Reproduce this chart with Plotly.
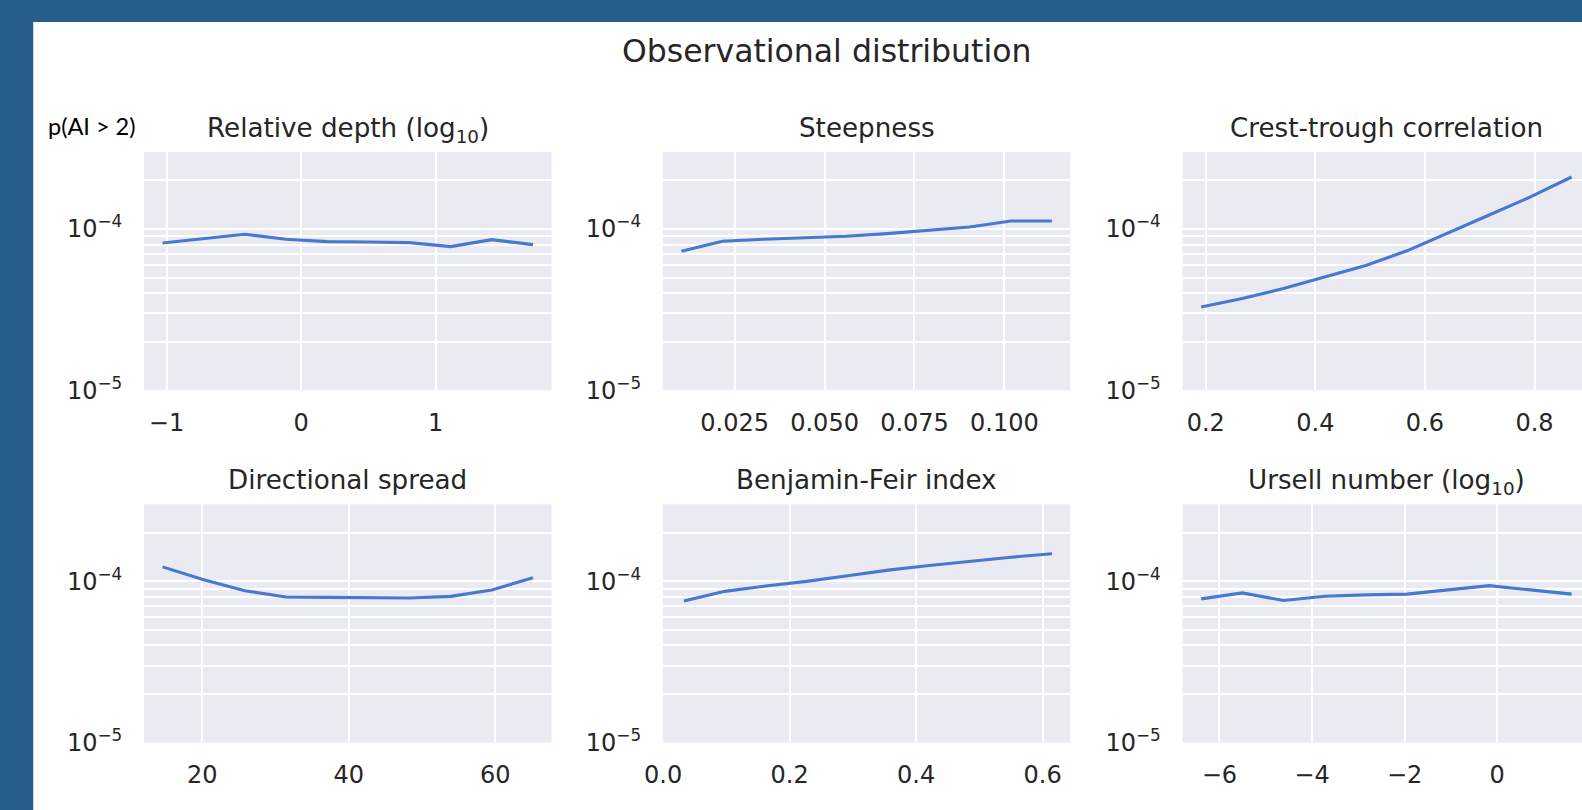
import numpy as np
import plotly.graph_objects as go

# ---------------- data ----------------
panel_titles = ["Relative depth (log<sub>10</sub>)", "Steepness", "Crest-trough correlation",
                "Directional spread", "Benjamin-Feir index", "Ursell number (log<sub>10</sub>)"]

rel_depth_x = [-1.030, -0.724, -0.418, -0.112, 0.194, 0.500, 0.806, 1.112, 1.418, 1.724]
rel_depth_y = [8.19e-5, 8.71e-5, 9.27e-5, 8.63e-5, 8.35e-5, 8.31e-5, 8.23e-5, 7.77e-5, 8.59e-5, 8.00e-5]

steep_x = [0.0102, 0.0216, 0.0331, 0.0445, 0.0560, 0.0674, 0.0789, 0.0903, 0.1018, 0.1132]
steep_y = [7.28e-5, 8.39e-5, 8.63e-5, 8.84e-5, 9.01e-5, 9.36e-5, 9.82e-5, 1.028e-4, 1.12e-4, 1.12e-4]

crest_x = [0.1915, 0.2666, 0.3417, 0.4169, 0.4920, 0.5671, 0.6422, 0.7173, 0.7925, 0.8676]
crest_y = [3.28e-5, 3.71e-5, 4.27e-5, 5.01e-5, 5.94e-5, 7.32e-5, 9.40e-5, 1.22e-4, 1.58e-4, 2.10e-4]

dirspread_x = [14.59, 20.21, 25.83, 31.45, 37.06, 42.68, 48.30, 53.92, 59.53, 65.15]
dirspread_y = [1.228e-4, 1.021e-4, 8.74e-5, 7.99e-5, 7.95e-5, 7.91e-5, 7.87e-5, 8.06e-5, 8.82e-5, 1.051e-4]

bfi_x = [0.0328, 0.0975, 0.1621, 0.2268, 0.2915, 0.3561, 0.4208, 0.4855, 0.5501, 0.6148]
bfi_y = [7.55e-5, 8.66e-5, 9.34e-5, 9.98e-5, 1.081e-4, 1.172e-4, 1.252e-4, 1.33e-4, 1.41e-4, 1.48e-4]

ursell_x = [-6.395, -5.506, -4.617, -3.728, -2.839, -1.950, -1.061, -0.172, 0.717, 1.606]
ursell_y = [7.78e-5, 8.47e-5, 7.60e-5, 8.08e-5, 8.24e-5, 8.32e-5, 8.84e-5, 9.40e-5, 8.84e-5, 8.32e-5]

xtick_vals = [[-1, 0, 1], [0.025, 0.050, 0.075, 0.100], [0.2, 0.4, 0.6, 0.8],
              [20, 40, 60], [0.0, 0.2, 0.4, 0.6], [-6, -4, -2, 0]]
xtick_text = [["\u22121", "0", "1"], ["0.025", "0.050", "0.075", "0.100"], ["0.2", "0.4", "0.6", "0.8"],
              ["20", "40", "60"], ["0.0", "0.2", "0.4", "0.6"], ["\u22126", "\u22124", "\u22122", "0"]]

ytick_vals = [1e-5, 1e-4]
ytick_text = ["10<sup>\u22125</sup>", "10<sup>\u22124</sup>"]
yminor_vals = [2e-5, 3e-5, 4e-5, 5e-5, 6e-5, 7e-5, 8e-5, 9e-5, 2e-4, 3e-4]
y_limits = [1e-5, 3e-4]

main_title = "Observational distribution"
y_label = "p(AI > 2)"

series_x = [rel_depth_x, steep_x, crest_x, dirspread_x, bfi_x, ursell_x]
series_y = [rel_depth_y, steep_y, crest_y, dirspread_y, bfi_y, ursell_y]

# ---------------- layout geometry (pixels) ----------------
W, H = 1582, 810
col_left = [144.0, 662.9, 1182.6]
col_w = 407.5
row_top = [152.0, 504.3]
row_h = 238.3

TXT = "#262626"
FONT = "DejaVu Sans"
LINE = "#4878d0"
BG_BLUE = "#255f89"

fig = go.Figure()
annotations = []

for k in range(6):
    r, c = divmod(k, 3)
    ax_id = "" if k == 0 else str(k + 1)
    x0 = col_left[c]
    x1 = min(x0 + col_w, W)
    frac_visible = (x1 - x0) / col_w
    xd = [x0 / W, x1 / W]
    yd = [1 - (row_top[r] + row_h) / H, 1 - row_top[r] / H]

    xs = series_x[k]
    lo, hi = min(xs), max(xs)
    pad = 0.05 * (hi - lo)
    rlo, rhi = lo - pad, hi + pad
    # keep a tick that sits right at the lower edge
    t0 = xtick_vals[k][0]
    if rlo > t0 and rlo - t0 < 0.01 * (rhi - rlo):
        rlo = t0 - 0.0005 * (rhi - rlo)
    rhi = rlo + (rhi - rlo) * frac_visible

    fig.add_trace(go.Scatter(x=xs, y=series_y[k], mode="lines",
                             line=dict(color=LINE, width=3.1),
                             xaxis="x" + ax_id, yaxis="y" + ax_id,
                             showlegend=False, hoverinfo="skip"))

    fig.layout["xaxis" + ax_id] = dict(
        domain=xd, range=[rlo, rhi], anchor="y" + ax_id, automargin=False,
        tickmode="array", tickvals=xtick_vals[k], ticktext=xtick_text[k],
        showgrid=True, gridcolor="white", gridwidth=1.7, zeroline=False,
        showline=False, ticks="outside", ticklen=11, tickcolor="rgba(0,0,0,0)",
        tickfont=dict(family=FONT, size=24, color=TXT), fixedrange=True)
    fig.layout["yaxis" + ax_id] = dict(
        domain=yd, type="log", range=[np.log10(y_limits[0]), np.log10(y_limits[1])],
        anchor="x" + ax_id, automargin=False,
        tickmode="array", tickvals=ytick_vals, ticktext=ytick_text,
        minor=dict(tickmode="array", tickvals=yminor_vals, showgrid=True,
                   gridcolor="white", gridwidth=1.7, ticks=""),
        showgrid=True, gridcolor="white", gridwidth=1.7, zeroline=False,
        showline=False, ticks="outside", ticklen=16, tickcolor="rgba(0,0,0,0)",
        tickfont=dict(family=FONT, size=24, color=TXT), fixedrange=True)

    annotations.append(dict(
        text=panel_titles[k], x=(x0 + col_w / 2) / W, y=1 - (row_top[r] - 41.0) / H,
        xref="paper", yref="paper", xanchor="center", yanchor="top", showarrow=False,
        font=dict(family=FONT, size=26.2, color=TXT)))

annotations.append(dict(
    text=main_title, x=826.7 / W, y=1 - 51.4 / H, xref="paper", yref="paper",
    xanchor="center", yanchor="middle", showarrow=False,
    font=dict(family=FONT, size=31.5, color=TXT)))

annotations.append(dict(
    text=y_label, x=46.3 / W, y=1 - 142.4 / H, xref="paper", yref="paper",
    xanchor="left", yanchor="bottom", showarrow=False,
    font=dict(family="Lato", size=23.5, color="black")))

shapes = [
    dict(type="rect", xref="paper", yref="paper", x0=0, x1=33.2 / W, y0=0, y1=1,
         fillcolor=BG_BLUE, line=dict(width=0), layer="above"),
    dict(type="rect", xref="paper", yref="paper", x0=0, x1=1, y0=1 - 22.0 / H, y1=1,
         fillcolor=BG_BLUE, line=dict(width=0), layer="above"),
]

fig.update_layout(
    template="none",
    width=W, height=H, autosize=False,
    margin=dict(l=0, r=0, t=0, b=0, pad=0, autoexpand=False),
    paper_bgcolor="white", plot_bgcolor="#eaeaf2",
    annotations=annotations, shapes=shapes,
    font=dict(family=FONT, color=TXT),
    showlegend=False,
)

fig.write_html("out.html", config={"displayModeBar": False},
               post_script="document.body.style.margin='0';document.body.style.overflow='hidden';")
